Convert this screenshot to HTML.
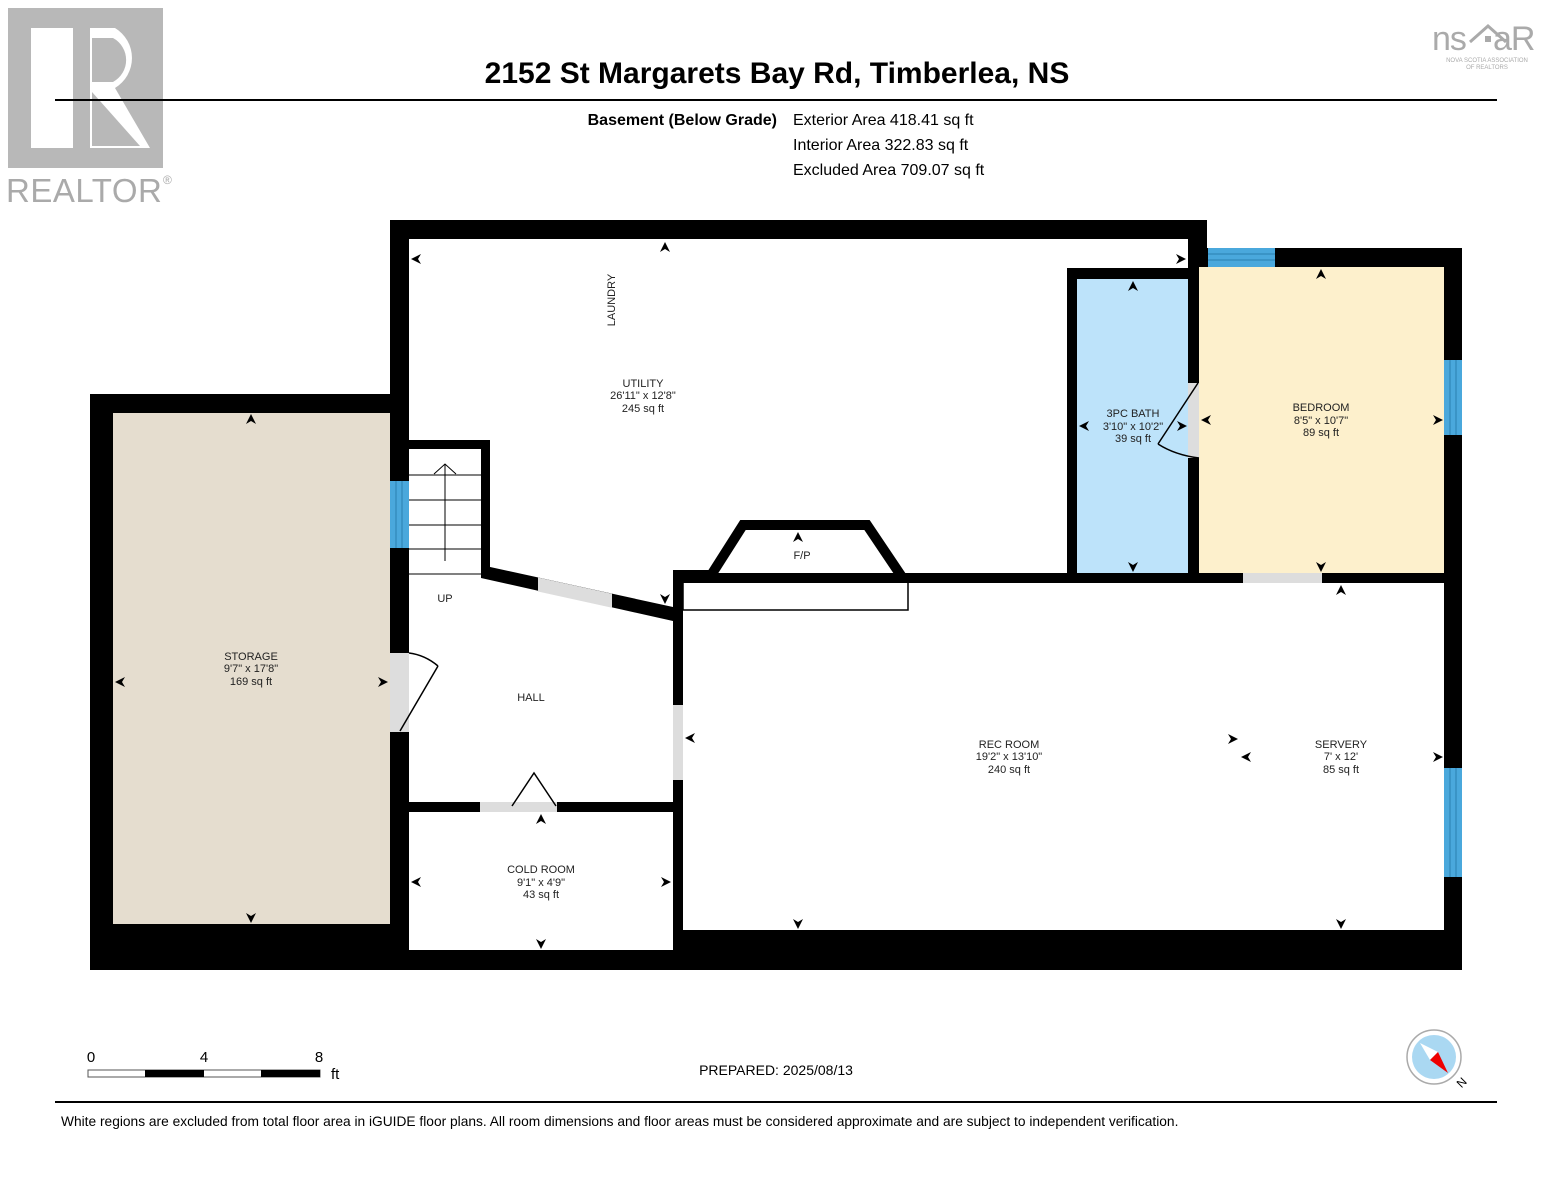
<!DOCTYPE html>
<html><head><meta charset="utf-8"><style>
body{margin:0;background:#fff;}
svg{display:block;font-family:"Liberation Sans",Arial,sans-serif;}
</style></head><body>
<svg width="1553" height="1200" viewBox="0 0 1553 1200" xmlns="http://www.w3.org/2000/svg">
<defs>
<path id="ar" d="M0,0 L-10,-5 L-7,0 L-10,5Z" fill="#000"/>
</defs>
<rect width="1553" height="1200" fill="#fff"/>
<!-- REALTOR logo -->
<rect x="8" y="8" width="155" height="160" fill="#b8b8b8"/>
<rect x="31" y="28" width="42" height="120" fill="#fff"/>
<path d="M90,28 H115 A35,35 0 0 1 115,88 L150,148 H90 Z" fill="#fff"/>
<path d="M92,38 H113 A25,25 0 0 1 113,82 H92Z" fill="#b8b8b8"/>
<path d="M92,92 L140,146 H92Z" fill="#b8b8b8"/>
<text x="6" y="202" font-size="33" fill="#aaa" letter-spacing="0.5">REALTOR</text>
<text x="163" y="184" font-size="12" fill="#aaa">®</text>
<!-- NSAR logo -->
<text x="1432" y="50" font-size="34" fill="#aaa" letter-spacing="-1">ns</text>
<path d="M1470,42 L1488,26 L1506,42" stroke="#aaa" stroke-width="3" fill="none"/>
<rect x="1485" y="36" width="6" height="6" fill="#aaa"/>
<text x="1493" y="50" font-size="34" fill="#aaa" letter-spacing="-1">aR</text>
<text x="1487" y="62" font-size="6" fill="#aaa" text-anchor="middle">NOVA SCOTIA ASSOCIATION</text>
<text x="1487" y="69" font-size="6" fill="#aaa" text-anchor="middle">OF REALTORS</text>
<!-- Title -->
<text x="777" y="83" font-size="30" font-weight="bold" text-anchor="middle">2152 St Margarets Bay Rd, Timberlea, NS</text>
<rect x="55" y="99" width="1442" height="2" fill="#000"/>
<text x="777" y="125" font-size="16" font-weight="bold" text-anchor="end">Basement (Below Grade)</text>
<text x="793" y="125" font-size="16">Exterior Area 418.41 sq ft</text>
<text x="793" y="150" font-size="16">Interior Area 322.83 sq ft</text>
<text x="793" y="175" font-size="16">Excluded Area 709.07 sq ft</text>

<path d="M90,394 H390 V220 H1207 V248 H1462 V970 H90 Z" fill="#000"/>
<rect x="409" y="239" width="1035" height="711" fill="#fff"/>
<rect x="1188" y="220" width="19" height="48" fill="#000"/>
<rect x="1188" y="248" width="274" height="19" fill="#000"/>
<rect x="113" y="413" width="277" height="511" fill="#e5ddcf"/>
<rect x="1067" y="268" width="132" height="11" fill="#000"/>
<rect x="1067" y="268" width="10" height="312" fill="#000"/>
<rect x="1188" y="220" width="11" height="360" fill="#000"/>
<rect x="1077" y="279" width="111" height="294" fill="#bde3fa"/>
<rect x="1199" y="267" width="245" height="306" fill="#fdf0cc"/>
<rect x="673" y="573" width="771" height="10" fill="#000"/>
<rect x="673" y="570" width="37" height="12" fill="#000"/>
<rect x="673" y="570" width="10" height="380" fill="#000"/>
<rect x="683" y="930" width="779" height="40" fill="#000"/>
<rect x="409" y="950" width="274" height="20" fill="#000"/>
<rect x="409" y="802" width="274" height="10" fill="#000"/>
<rect x="409" y="440" width="81" height="9" fill="#000"/>
<rect x="481" y="440" width="9" height="135" fill="#000"/>
<polygon points="481,565 673,607 673,621 481,578" fill="#000"/>
<polygon points="538,577.5 612,593.7 612,607.7 538,591.5" fill="#ddd"/>
<g stroke="#000" stroke-width="1">
<line x1="409" y1="475" x2="481" y2="475"/><line x1="409" y1="500" x2="481" y2="500"/>
<line x1="409" y1="525" x2="481" y2="525"/><line x1="409" y1="549" x2="481" y2="549"/>
<line x1="409" y1="574" x2="481" y2="574"/>
<line x1="445" y1="561" x2="445" y2="464"/>
<polyline points="434,474 445,464 456,474" fill="none"/>
</g>
<g fill="#4aa8dc">
<rect x="390" y="481" width="19" height="67"/>
<rect x="1208" y="248" width="67" height="19"/>
<rect x="1444" y="360" width="18" height="75"/>
<rect x="1444" y="768" width="18" height="109"/>
</g>
<g stroke="#2a7fb0" stroke-width="1">
<line x1="396" y1="481" x2="396" y2="548"/><line x1="402" y1="481" x2="402" y2="548"/>
<line x1="1208" y1="254" x2="1275" y2="254"/><line x1="1208" y1="260" x2="1275" y2="260"/>
<line x1="1450" y1="360" x2="1450" y2="435"/><line x1="1456" y1="360" x2="1456" y2="435"/>
<line x1="1450" y1="768" x2="1450" y2="877"/><line x1="1456" y1="768" x2="1456" y2="877"/>
</g>
<g fill="#ddd">
<rect x="390" y="653" width="19" height="79"/>
<rect x="1188" y="383" width="11" height="75"/>
<rect x="1243" y="573" width="79" height="10"/>
<rect x="673" y="705" width="10" height="75"/>
<rect x="480" y="802" width="77" height="10"/>
</g>
<g stroke="#000" stroke-width="1.5" fill="none">
<line x1="400" y1="731" x2="438" y2="666"/><path d="M409,653 Q425,655 438,666"/>
<line x1="1198" y1="383" x2="1158" y2="444"/><path d="M1158,444 Q1175,455 1199,458"/>
<polyline points="512,806 534,773 556,806"/>
</g>
<polyline points="708,580 743,525 867,525 904,580" fill="none" stroke="#000" stroke-width="10" stroke-linejoin="miter"/>
<rect x="683" y="582" width="225" height="28" fill="none" stroke="#000" stroke-width="1.5"/>
<use href="#ar" transform="translate(411,259) rotate(180)"/>
<use href="#ar" transform="translate(665,242) rotate(-90)"/>
<use href="#ar" transform="translate(1186,259)"/>
<use href="#ar" transform="translate(665,604) rotate(90)"/>
<use href="#ar" transform="translate(251,414) rotate(-90)"/>
<use href="#ar" transform="translate(251,923) rotate(90)"/>
<use href="#ar" transform="translate(115,682) rotate(180)"/>
<use href="#ar" transform="translate(388,682)"/>
<use href="#ar" transform="translate(1133,281) rotate(-90)"/>
<use href="#ar" transform="translate(1133,572) rotate(90)"/>
<use href="#ar" transform="translate(1079,426) rotate(180)"/>
<use href="#ar" transform="translate(1187,426)"/>
<use href="#ar" transform="translate(1321,269) rotate(-90)"/>
<use href="#ar" transform="translate(1321,572) rotate(90)"/>
<use href="#ar" transform="translate(1201,420) rotate(180)"/>
<use href="#ar" transform="translate(1443,420)"/>
<use href="#ar" transform="translate(685,738) rotate(180)"/>
<use href="#ar" transform="translate(798,929) rotate(90)"/>
<use href="#ar" transform="translate(1341,585) rotate(-90)"/>
<use href="#ar" transform="translate(1341,929) rotate(90)"/>
<use href="#ar" transform="translate(1238,739)"/>
<use href="#ar" transform="translate(1241,757) rotate(180)"/>
<use href="#ar" transform="translate(1443,757)"/>
<use href="#ar" transform="translate(541,814) rotate(-90)"/>
<use href="#ar" transform="translate(541,949) rotate(90)"/>
<use href="#ar" transform="translate(411,882) rotate(180)"/>
<use href="#ar" transform="translate(671,882)"/>
<use href="#ar" transform="translate(798,532) rotate(-90)"/>
<g font-size="11" text-anchor="middle" fill="#222">
<text x="615" y="300" transform="rotate(-90 615 300)">LAUNDRY</text>
<text x="643" y="387">UTILITY</text><text x="643" y="399">26'11" x 12'8"</text><text x="643" y="412">245 sq ft</text>
<text x="1133" y="417">3PC BATH</text><text x="1133" y="430">3'10" x 10'2"</text><text x="1133" y="442">39 sq ft</text>
<text x="1321" y="411">BEDROOM</text><text x="1321" y="424">8'5" x 10'7"</text><text x="1321" y="436">89 sq ft</text>
<text x="251" y="660">STORAGE</text><text x="251" y="672">9'7" x 17'8"</text><text x="251" y="685">169 sq ft</text>
<text x="445" y="602">UP</text>
<text x="531" y="701">HALL</text>
<text x="802" y="559">F/P</text>
<text x="1009" y="748">REC ROOM</text><text x="1009" y="760">19'2" x 13'10"</text><text x="1009" y="773">240 sq ft</text>
<text x="1341" y="748">SERVERY</text><text x="1341" y="760">7' x 12'</text><text x="1341" y="773">85 sq ft</text>
<text x="541" y="873">COLD ROOM</text><text x="541" y="886">9'1" x 4'9"</text><text x="541" y="898">43 sq ft</text>
</g>
<g font-size="15">
<text x="91" y="1062" text-anchor="middle">0</text>
<text x="204" y="1062" text-anchor="middle">4</text>
<text x="319" y="1062" text-anchor="middle">8</text>
<text x="331" y="1079">ft</text>
</g>
<rect x="88" y="1070" width="232" height="7" fill="#fff" stroke="#555" stroke-width="1"/>
<rect x="145" y="1070" width="59" height="7" fill="#000"/>
<rect x="261" y="1070" width="59" height="7" fill="#000"/>
<text x="776" y="1075" font-size="14" text-anchor="middle">PREPARED: 2025/08/13</text>
<circle cx="1434" cy="1057" r="27" fill="#fff" stroke="#aaa" stroke-width="1.5"/>
<circle cx="1434" cy="1057" r="22" fill="#aad8f2"/>
<polygon points="1420,1043 1438,1052 1430,1060" fill="#fff"/>
<polygon points="1438,1052 1448,1073 1430,1060" fill="#e00"/>
<text x="1458" y="1090" font-size="12" transform="rotate(-45 1458 1085)">N</text>
<rect x="55" y="1101" width="1442" height="2" fill="#000"/>
<text x="61" y="1126" font-size="13.75">White regions are excluded from total floor area in iGUIDE floor plans. All room dimensions and floor areas must be considered approximate and are subject to independent verification.</text>
</svg>
</body></html>
